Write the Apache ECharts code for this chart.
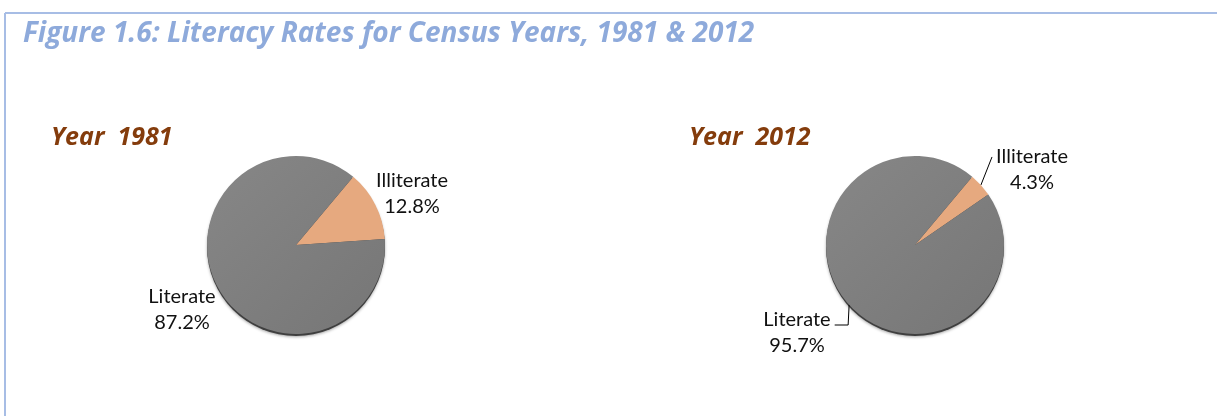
<html>
<head>
<script src="https://cdn.jsdelivr.net/npm/echarts@6.0.0/dist/echarts.min.js"></script>
<style>
  body { margin: 0; background: #fff; }
  #chart { width: 1217px; height: 416px; }
</style>
</head>
<body>
<div id="chart"></div>
<script>
  // data
  const categories = ['Illiterate', 'Literate']
  const values1981 = [12.8, 87.2]
  const values2012 = [4.3, 95.7]
  const years = ['Year  1981', 'Year  2012']

  const sliceColors = ['#E6A97F', '#7F7F7F']
  const labelFont = 'Lato'
  const headFont = 'Open Sans'

  const chart = echarts.init(document.getElementById('chart'))

  function pieData(vals) {
    return categories.map((name, i) => ({
      name: name,
      value: vals[i],
      itemStyle: {
        color: i === 1
          ? new echarts.graphic.LinearGradient(0, 0, 1, 1, [
              { offset: 0, color: '#878787' },
              { offset: 1, color: '#767676' }
            ])
          : sliceColors[i]
      }
    }))
  }

  const labelStyle = {
    show: true,
    formatter: '{b}\n{c}%',
    fontFamily: labelFont,
    fontSize: 20,
    lineHeight: 26,
    color: '#111',
    align: 'center'
  }

  // label block centres
  const labelPos1981 = [[412, 194], [182, 310]]
  const labelPos2012 = [[1032, 170], [797, 333]]

  // dark rim under each pie (the bevel shadow in the original)
  function rimSeries(cx) {
    return {
      type: 'pie',
      center: [cx, 247],
      radius: 89,
      silent: true,
      animation: false,
      z: 1,
      label: { show: false },
      labelLine: { show: false },
      data: [{ value: 1, itemStyle: { color: '#3f3f3f', shadowColor: 'rgba(0,0,0,0.35)', shadowBlur: 3, shadowOffsetY: 1 } }]
    }
  }

  function pieSeries(vals, cx, pos, showLine) {
    return {
      type: 'pie',
      center: [cx, 245],
      radius: 89,
      startAngle: 50,
      clockwise: true,
      silent: true,
      animation: false,
      z: 2,
      data: pieData(vals),
      itemStyle: { borderWidth: 0 },
      label: labelStyle,
      labelLine: {
        show: showLine,
        length: 10,
        length2: 8,
        lineStyle: { color: '#000', width: 1 }
      },
      labelLayout: function (p) {
        const x = pos[p.dataIndex][0]
        const y = pos[p.dataIndex][1]
        const out = { x: x, y: y, align: 'center', verticalAlign: 'middle' }
        if (showLine && p.labelLinePoints) {
          const start = p.labelLinePoints[0]
          const w = p.labelRect.width
          const h = p.labelRect.height
          if (p.dataIndex === 0) {
            const end = [x - w / 2 - 4, y - h / 2 + 15]
            out.labelLinePoints = [start, end, end]
          } else {
            const endY = y - 8
            out.labelLinePoints = [start, [start[0] - 1, endY], [x + w / 2 + 4, endY]]
          }
        }
        return out
      }
    }
  }

  const headStyle = { fontFamily: headFont, fontStyle: 'italic', fontWeight: 'bold' }

  const option = {
    backgroundColor: '#fff',
    title: [
      {
        text: 'Figure 1.6: Literacy Rates for Census Years, 1981 & 2012',
        left: 18, top: 4,
        textStyle: Object.assign({ fontSize: 28, color: '#8EAADB' }, headStyle)
      },
      {
        text: years[0],
        left: 46, top: 110,
        textStyle: Object.assign({ fontSize: 25, color: '#843C0C' }, headStyle)
      },
      {
        text: years[1],
        left: 684, top: 110,
        textStyle: Object.assign({ fontSize: 25, color: '#843C0C' }, headStyle)
      }
    ],
    graphic: [
      { type: 'line', shape: { x1: 5, y1: 13, x2: 1217, y2: 13 }, style: { stroke: '#A7BDE5', lineWidth: 2 } },
      { type: 'line', shape: { x1: 5, y1: 13, x2: 5, y2: 416 }, style: { stroke: '#A7BDE5', lineWidth: 2 } }
    ],
    series: [
      rimSeries(296),
      rimSeries(915),
      pieSeries(values1981, 296, labelPos1981, false),
      pieSeries(values2012, 915, labelPos2012, true)
    ]
  }

  chart.setOption(option)
</script>
</body>
</html>
